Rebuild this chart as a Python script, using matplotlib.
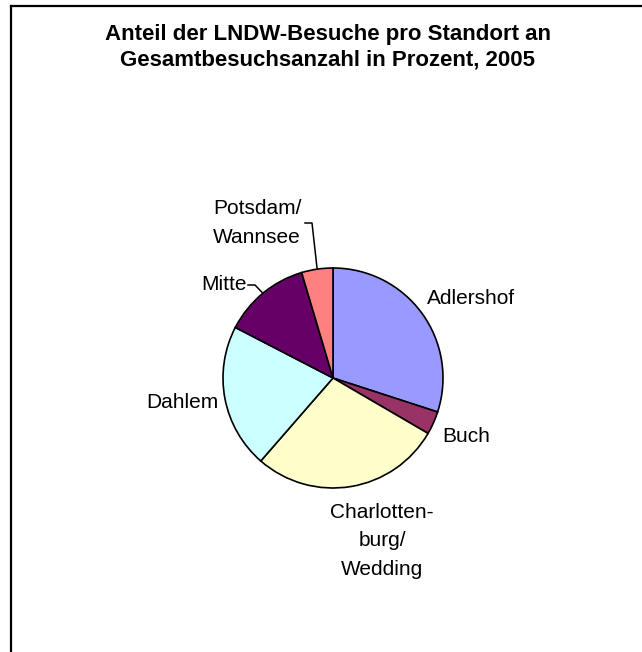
import numpy as np
import matplotlib
matplotlib.use('Agg')
import matplotlib.pyplot as plt
from matplotlib.lines import Line2D

plt.rcParams['font.family'] = ['Liberation Sans', 'DejaVu Sans']

# Anteil in Prozent je Standort (im Uhrzeigersinn ab 12 Uhr)
standorte = ['Adlershof', 'Buch', 'Charlotten-\nburg/\nWedding', 'Dahlem', 'Mitte', 'Potsdam/\nWannsee']
anteile = [30.0, 3.4, 28.0, 21.2, 12.8, 4.6]
farben = ['#9999FF', '#993366', '#FFFFCC', '#CCFFFF', '#660066', '#FF8080']

W, H = 642, 652
fig = plt.figure(figsize=(W / 100, H / 100), dpi=100)
fig.patch.set_facecolor('white')

# pie center and radius in pixels
cx, cy, r = 333, 378, 110
ax = fig.add_axes([(cx - r) / W, (H - cy - r) / H, 2 * r / W, 2 * r / H])

wedges, _ = ax.pie(anteile, colors=farben, startangle=90, counterclock=False, radius=1,
                   wedgeprops=dict(edgecolor='black', linewidth=1.2))
for w in wedges:
    w.set_clip_on(False)
ax.set_xlim(-1, 1)
ax.set_ylim(-1, 1)
ax.axis('off')


def px(x, y):
    # pixel position -> data coordinates of the pie axes
    return (x - cx) / r, (cy - y) / r


label_pos = [(427, 298, 'left'), (442, 437, 'left'), (382, 541, 'center'),
             (218, 403, 'right'), (247, 284, 'right'), (257, 223, 'center')]
for name, (x, y, ha) in zip(standorte, label_pos):
    tx, ty = px(x, y)
    ax.text(tx, ty, name, ha=ha, va='center', fontsize=15, linespacing=1.65, clip_on=False)

# leader lines for Mitte and Potsdam/Wannsee
leaders = {4: [(248, 285), (255, 285)], 5: [(305, 223), (312, 223)]}
for i, pts in leaders.items():
    w = wedges[i]
    mid = np.deg2rad((w.theta1 + w.theta2) / 2)
    xs = [px(*p)[0] for p in pts] + [np.cos(mid)]
    ys = [px(*p)[1] for p in pts] + [np.sin(mid)]
    ax.plot(xs, ys, color='black', linewidth=1.1, clip_on=False)

fig.text(328 / W, 1 - 47 / H, 'Anteil der LNDW-Besuche pro Standort an\nGesamtbesuchsanzahl in Prozent, 2005',
         ha='center', va='center', fontsize=16, fontweight='bold', linespacing=1.3)

# chart frame (left and top edges visible)
fig.add_artist(Line2D([11.5 / W, 11.5 / W], [0, 1 - 5.5 / H], transform=fig.transFigure, color='black', linewidth=1.6))
fig.add_artist(Line2D([11.5 / W, 1], [1 - 5.5 / H, 1 - 5.5 / H], transform=fig.transFigure, color='black', linewidth=1.6))

fig.savefig('out.png', dpi=100)
